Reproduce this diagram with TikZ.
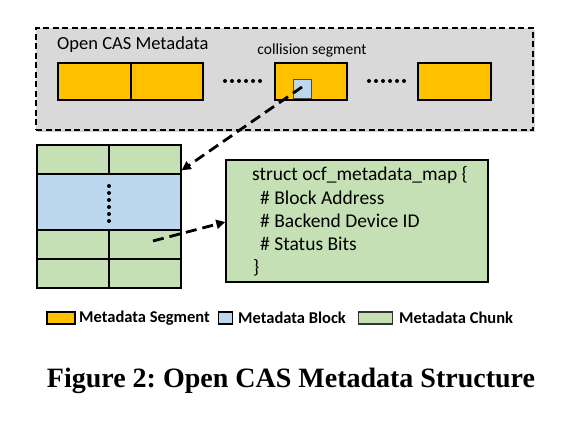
\documentclass[tikz,border=0pt]{standalone}
\usepackage{fontspec}
\setmainfont{Carlito}
\newfontfamily\capfont{Liberation Serif}
\usetikzlibrary{arrows.meta,shadows}
\definecolor{segorange}{HTML}{FFC000}
\definecolor{blkblue}{HTML}{BDD7EE}
\definecolor{chkgreen}{HTML}{C5E0B4}
\definecolor{bggray}{HTML}{D9D9D9}
\tikzset{
  seg/.style={draw=black,line width=1.5pt,fill=segorange},
  chunk/.style={draw=black,line width=1.5pt,fill=chkgreen},
  blk/.style={draw=black!70,line width=1pt,fill=blkblue},
  darr/.style={line width=2.8pt,dash pattern=on 11pt off 6pt,-{Triangle[length=9pt,width=9pt]}},
  dotc/.style={fill=black,circle,inner sep=0pt,minimum size=4pt},
  txt/.style={inner sep=0pt,anchor=west},
  swatch/.style={line width=1.5pt,inner sep=0pt}
}
\begin{document}
\frenchspacing
\begin{tikzpicture}[x=1pt,y=-1pt]
\useasboundingbox (0,0) rectangle (575,427);
% outer metadata area
\node[draw=black,dash pattern=on 6pt off 3.5pt,line width=1.4pt,fill=bggray,drop shadow={opacity=0.35,shadow xshift=2pt,shadow yshift=-2pt},minimum width=497pt,minimum height=102pt,inner sep=0pt] (area) at (284.5,79) {};
\node[txt,font=\fontsize{18.5}{20}\selectfont] (title) at (57,45) {Open CAS Metadata};
\node[inner sep=0pt,font=\fontsize{15.5}{17}\selectfont] (colllbl) at (312,50) {collision segment};
% segments
\node[seg,minimum width=73pt,minimum height=37pt,inner sep=0pt] (s1) at (94.5,81.5) {};
\node[seg,minimum width=72pt,minimum height=37pt,inner sep=0pt] (s2) at (167,81.5) {};
\node[seg,minimum width=72pt,minimum height=37pt,inner sep=0pt] (s3) at (311,81.5) {};
\node[seg,minimum width=73pt,minimum height=37pt,inner sep=0pt] (s4) at (454.5,81.5) {};
\node[blk,minimum width=18pt,minimum height=19pt,inner sep=0pt] (cb) at (302,89.5) {};
\foreach \i in {0,...,5} {\node[dotc] (da\i) at (225+7*\i,81) {};}
\foreach \i in {0,...,5} {\node[dotc] (db\i) at (369+7*\i,81) {};}
% chunk table
\node[chunk,minimum width=144pt,minimum height=29pt,inner sep=0pt] (r1) at (109,159.5) {};
\node[draw=black,line width=1.5pt,fill=blkblue,minimum width=144pt,minimum height=56pt,inner sep=0pt] (rb) at (109,202) {};
\node[chunk,minimum width=144pt,minimum height=29pt,inner sep=0pt] (r3) at (109,244.5) {};
\node[chunk,minimum width=144pt,minimum height=29pt,inner sep=0pt] (r4) at (109,273.5) {};
\draw[line width=1.5pt] (r1.north) -- (r1.south);
\draw[line width=1.5pt] (r3.north) -- (r4.south);
\foreach \i in {0,...,5} {\node[dotc] (dv\i) at (109,186+7*\i) {};}
% struct box
\node[chunk,minimum width=262pt,minimum height=122pt,inner sep=0pt] (st) at (357,221) {};
\begin{scope}[font=\fontsize{19.5}{21}\selectfont]
\node[txt] (l1) at (252,175) {struct ocf\_metadata\_map \{};
\node[txt] (l2) at (260,198) {\# Block Address};
\node[txt] (l3) at (260,221) {\# Backend Device ID};
\node[txt] (l4) at (260,244) {\# Status Bits};
\node[txt] (l5) at (253,268) {\}};
\end{scope}
% arrows
\coordinate (a1s) at (302,87);
\coordinate (a1e) at (rb.north east);
\coordinate (a2s) at (153,241);
\coordinate (a2e) at (st.west);
\draw[darr] (a1s) -- ([yshift=3pt]a1e);
\draw[darr] (a2s) -- ([yshift=-1pt]a2e);
% legend
\begin{scope}[font=\bfseries\fontsize{16.5}{18}\selectfont]
\node[swatch,draw=black,fill=segorange,minimum width=28pt,minimum height=12pt] (lg1) at (61,318) {};
\node[txt] (lt1) at (79,318) {Metadata Segment};
\node[swatch,draw=black,fill=blkblue,minimum width=14pt,minimum height=12pt] (lg2) at (225.5,318) {};
\node[txt] (lt2) at (238,318) {Metadata Block};
\node[swatch,draw=black!80,fill=chkgreen,minimum width=34pt,minimum height=12pt] (lg3) at (375.5,318) {};
\node[txt] (lt3) at (399,318) {Metadata Chunk};
\end{scope}
% caption
\node[inner sep=0pt,font=\capfont\bfseries\fontsize{28}{30}\selectfont] (cap) at (291,381) {Figure 2: Open CAS Metadata Structure};
\end{tikzpicture}
\end{document}
